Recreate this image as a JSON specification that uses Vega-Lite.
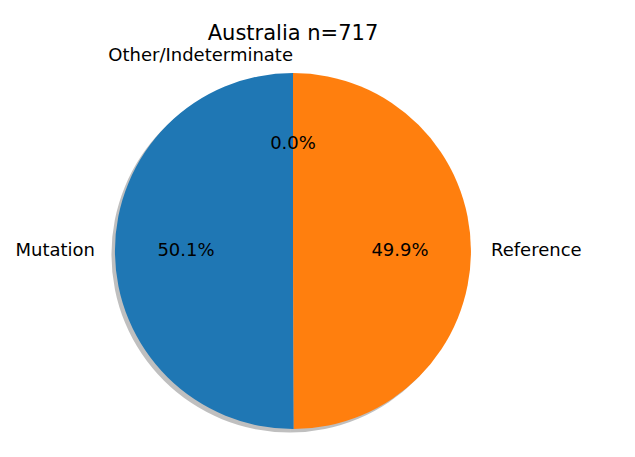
{
  "$schema": "https://vega.github.io/schema/vega-lite/v6.json",
  "width": 586,
  "height": 412,
  "autosize": {"type": "none"},
  "padding": {"left": 0, "top": 45, "right": 0, "bottom": 0},
  "background": "white",
  "config": {"view": {"stroke": null}, "font": "DejaVu Sans"},
  "title": {
    "text": "Australia n=717",
    "font": "DejaVu Sans",
    "fontSize": 21,
    "fontWeight": "normal",
    "color": "#000000",
    "anchor": "middle",
    "baseline": "alphabetic",
    "offset": -17
  },
  "data": {
    "values": [
      {"label": "Mutation", "count": 359, "share": 0.501},
      {"label": "Reference", "count": 358, "share": 0.499},
      {"label": "Other/Indeterminate", "count": 0, "share": 0.0}
    ]
  },
  "encoding": {
    "theta": {"field": "count", "type": "quantitative", "stack": true},
    "order": {"field": "count", "type": "quantitative", "sort": "ascending"}
  },
  "layer": [
    {
      "mark": {"type": "arc", "outerRadius": 178, "color": "#000000", "opacity": 0.25, "xOffset": -3.5, "yOffset": 3.5}
    },
    {
      "mark": {"type": "arc", "outerRadius": 178},
      "encoding": {
        "color": {
          "field": "label",
          "type": "nominal",
          "scale": {"domain": ["Mutation", "Reference", "Other/Indeterminate"], "range": ["#1f77b4", "#ff7f0e", "#2ca02c"]},
          "legend": null
        }
      }
    },
    {
      "mark": {"type": "text", "radius": 107, "fontSize": 18, "font": "DejaVu Sans", "color": "#000000", "align": "center", "baseline": "middle"},
      "encoding": {"text": {"field": "share", "type": "quantitative", "format": ".1%"}}
    },
    {
      "mark": {"type": "text", "radius": 198, "fontSize": 18, "font": "DejaVu Sans", "color": "#000000", "align": "right", "baseline": "middle"},
      "encoding": {"text": {"condition": {"test": "datum.label === 'Mutation'", "field": "label"}, "value": ""}}
    },
    {
      "mark": {"type": "text", "radius": 195, "fontSize": 18, "font": "DejaVu Sans", "color": "#000000", "align": "right", "baseline": "middle"},
      "encoding": {"text": {"condition": {"test": "datum.label === 'Other/Indeterminate'", "field": "label"}, "value": ""}}
    },
    {
      "mark": {"type": "text", "radius": 198, "fontSize": 18, "font": "DejaVu Sans", "color": "#000000", "align": "left", "baseline": "middle"},
      "encoding": {"text": {"condition": {"test": "datum.label === 'Reference'", "field": "label"}, "value": ""}}
    }
  ]
}
